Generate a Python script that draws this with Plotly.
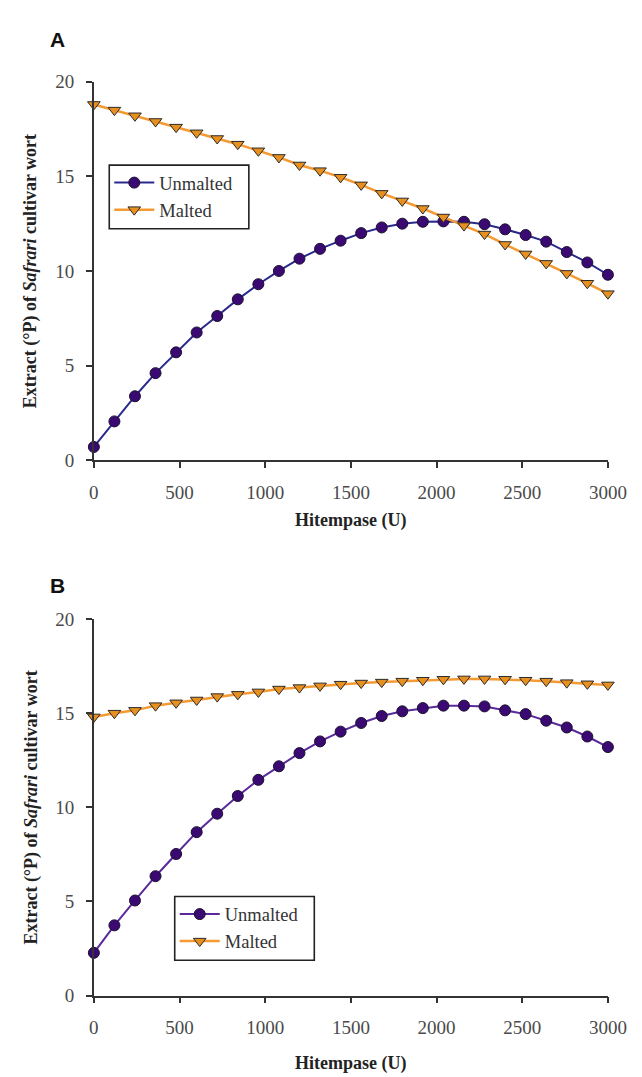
import plotly.graph_objects as go

hitempase = [0, 120, 240, 360, 480, 600, 720, 840, 960, 1080, 1200, 1320, 1440,
             1560, 1680, 1800, 1920, 2040, 2160, 2280, 2400, 2520, 2640, 2760, 2880, 3000]

a_unmalted = [0.7, 2.05, 3.38, 4.6, 5.7, 6.75, 7.62, 8.5, 9.3, 10.0, 10.65, 11.17, 11.6,
              12.0, 12.3, 12.5, 12.6, 12.62, 12.6, 12.47, 12.2, 11.9, 11.55, 11.0, 10.45, 9.8]
a_malted = [18.8, 18.5, 18.2, 17.9, 17.6, 17.3, 17.0, 16.7, 16.35, 16.0, 15.6, 15.3, 14.95,
            14.55, 14.1, 13.7, 13.3, 12.85, 12.4, 11.95, 11.4, 10.9, 10.4, 9.87, 9.35, 8.8]

b_unmalted = [2.27, 3.73, 5.05, 6.34, 7.52, 8.68, 9.66, 10.6, 11.46, 12.18, 12.88, 13.5, 14.02,
              14.48, 14.85, 15.1, 15.27, 15.4, 15.4, 15.36, 15.15, 14.95, 14.6, 14.24, 13.76, 13.2]
b_malted = [14.8, 15.0, 15.15, 15.4, 15.55, 15.7, 15.88, 16.0, 16.13, 16.28, 16.36, 16.45, 16.54,
            16.6, 16.65, 16.7, 16.75, 16.8, 16.82, 16.82, 16.8, 16.75, 16.7, 16.62, 16.56, 16.5]

x_ticks = [0, 500, 1000, 1500, 2000, 2500, 3000]
y_ticks = [0, 5, 10, 15, 20]
series_names = ["Unmalted", "Malted"]
panel_labels = ["A", "B"]
x_title = "Hitempase (U)"
y_title = "Extract (°P) of <i>Safrari</i> cultivar wort"

W, H = 642, 1077
SERIF = "Liberation Serif, Times New Roman, serif"

fig = go.Figure()

def add_panel(xa, ya, unm, mal, unm_line, legend_name):
    fig.add_trace(go.Scatter(
        x=hitempase, y=unm, mode="lines+markers", name=series_names[0],
        xaxis=xa, yaxis=ya, cliponaxis=False, legend=legend_name,
        line=dict(color=unm_line, width=2),
        marker=dict(symbol="circle", size=11, color="#3a0a72",
                    line=dict(color="#1a1030", width=1)),
    ))
    fig.add_trace(go.Scatter(
        x=hitempase, y=mal, mode="lines+markers", name=series_names[1],
        xaxis=xa, yaxis=ya, cliponaxis=False, legend=legend_name,
        line=dict(color="#f59a32", width=2.5),
        marker=dict(symbol="triangle-down", size=11, color="#e8901f",
                    line=dict(color="#2a2a2a", width=1)),
    ))

add_panel("x", "y", a_unmalted, a_malted, "#2a2a8c", "legend")
add_panel("x2", "y2", b_unmalted, b_malted, "#5a2a9a", "legend2")

x0, x1 = 84 / W, 618 / W
domA = [1 - 451 / H, 1 - 65 / H]
domB = [1 - 997 / H, 1 - 613 / H]

axis_common = dict(
    showgrid=False, zeroline=False, showline=True, linecolor="#333", linewidth=1.6,
    ticks="outside", ticklen=6, tickcolor="#333", tickwidth=1.6,
    tickfont=dict(family=SERIF, size=19, color="#4a4a4a"),
)

legend_common = dict(
    xanchor="left", yanchor="top", borderwidth=0, bgcolor="rgba(255,255,255,0)",
    font=dict(family=SERIF, size=18.5, color="#333"), tracegroupgap=0, itemwidth=40,
)

fig.update_layout(
    width=W, height=H, margin=dict(l=0, r=0, t=0, b=0),
    plot_bgcolor="white", paper_bgcolor="white",
    xaxis=dict(domain=[x0, x1], range=[0, 3000], tickvals=x_ticks, anchor="y",
               ticklabelstandoff=8, **axis_common),
    yaxis=dict(domain=domA, range=[0, 20], tickvals=y_ticks, anchor="x",
               ticklabelstandoff=8, **axis_common),
    xaxis2=dict(domain=[x0, x1], range=[0, 3000], tickvals=x_ticks, anchor="y2",
                ticklabelstandoff=8, **axis_common),
    yaxis2=dict(domain=domB, range=[0, 20], tickvals=y_ticks, anchor="x2",
                ticklabelstandoff=8, **axis_common),
    legend=dict(x=100 / W, y=1 - 149 / H, **legend_common),
    legend2=dict(x=168 / W, y=1 - 895 / H, **legend_common),
    showlegend=True,
)

# legend frames
for (lx0, lx1, ly0, ly1) in [(100, 245, 150, 215), (168, 313, 896, 961)]:
    fig.add_shape(type="rect", xref="paper", yref="paper",
                  x0=lx0 / W, x1=lx1 / W, y0=1 - ly1 / H, y1=1 - ly0 / H,
                  line=dict(color="#222", width=1.6), fillcolor="rgba(0,0,0,0)", layer="above")

ann = []
for lab, ytop in zip(panel_labels, [22, 579]):
    ann.append(dict(text=f"<b>{lab}</b>", x=46 / W, y=1 - ytop / H, xref="paper", yref="paper",
                    showarrow=False, xanchor="center", yanchor="middle",
                    font=dict(family="Liberation Sans, Arial, sans-serif", size=21, color="#111")))
for ty, dom in [(513, domA), (1066, domB)]:
    ann.append(dict(text=f"<b>{x_title}</b>", x=(x0 + x1) / 2, y=1 - ty / H, xref="paper",
                    yref="paper", showarrow=False, xanchor="center", yanchor="middle",
                    font=dict(family=SERIF, size=18, color="#222")))
    ann.append(dict(text=f"<b>{y_title}</b>", x=19 / W, y=(dom[0] + dom[1]) / 2, xref="paper",
                    yref="paper", showarrow=False, textangle=-90, xanchor="center",
                    yanchor="middle", font=dict(family=SERIF, size=18, color="#222")))
fig.update_layout(annotations=ann)

fig.write_html("out.html")
